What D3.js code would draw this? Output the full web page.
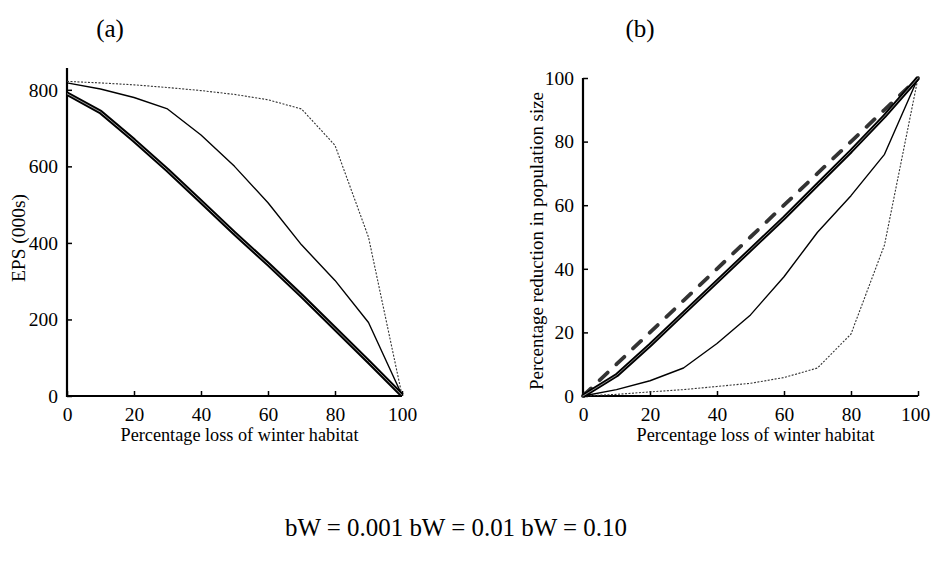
<!DOCTYPE html>
<html><head><meta charset="utf-8">
<script src="https://cdn.jsdelivr.net/npm/d3@7"></script>
<style>
body{margin:0;background:#fff;}
svg text{font-family:"Liberation Serif","Times New Roman",Times,serif !important;fill:#000;}
</style></head>
<body><svg id="c" width="931" height="563"></svg>
<script>
// ---- data ----
const lossPct = [0,10,20,30,40,50,60,70,80,90,100];
// panel (a): EPS (000s)
const epsBw001 = [790,742,668,590,508,425,345,262,176,90,2];
const epsBw01  = [818,802,780,750,682,600,505,395,302,192,2];
const epsBw10  = [822,818,813,806,798,788,774,750,655,415,2];
// panel (b): percentage reduction in population size
const redLine  = [0,10,20,30,40,50,60,70,80,90,100];
const redBw001 = [0,6.5,16,26,36,46,56,66.5,77,88,100];
const redBw01  = [0,2,4.8,8.8,16.5,25.5,37.5,51.5,63,76,100];
const redBw10  = [0,0.5,1.3,2,3,4,5.8,8.8,19.5,47.5,100];
const xTicks = [0,20,40,60,80,100];
const yTicksA = [0,200,400,600,800];
const yTicksB = [0,20,40,60,80,100];
const legendText = "bW = 0.001 bW = 0.01 bW = 0.10";

const FONT = "Liberation Serif, Times New Roman, serif";
const svg = d3.select("#c");

function panel(opts){
  const g = svg.append("g");
  const x = d3.scaleLinear().domain([0,100]).range(opts.xr);
  const y = d3.scaleLinear().domain(opts.yd).range(opts.yr);
  g.append("line").attr("x1",x(0)).attr("x2",x(100)).attr("y1",y(0)).attr("y2",y(0))
    .attr("stroke","#000").attr("stroke-width",2.2);
  g.append("line").attr("x1",x(0)).attr("x2",x(0)).attr("y1",y(0)+1).attr("y2",opts.yr[1])
    .attr("stroke","#000").attr("stroke-width",2.2);
  const xa = d3.axisBottom(x).tickValues(xTicks).tickSize(-5).tickPadding(11).tickFormat(d3.format("d"));
  const gx = g.append("g").attr("transform",`translate(0,${y(0)})`).call(xa)
    .attr("font-family",FONT).attr("font-size",19.5);
  gx.select(".domain").remove();
  gx.selectAll(".tick line").attr("stroke","#000").attr("stroke-width",1.5);
  gx.selectAll("text").attr("fill","#000");
  if(opts.lastShift) gx.selectAll(".tick text").filter(d=>d===100).attr("dx",opts.lastShift);
  const ya = d3.axisLeft(y).tickValues(opts.yt).tickSize(-5).tickPadding(9).tickFormat(d3.format("d"));
  const gy = g.append("g").attr("transform",`translate(${x(0)},0)`).call(ya)
    .attr("font-family",FONT).attr("font-size",19.5);
  gy.select(".domain").remove();
  gy.selectAll(".tick line").attr("stroke","#000").attr("stroke-width",1.5);
  gy.selectAll("text").attr("fill","#000");
  g.append("text").attr("x",(x(0)+x(100))/2+5).attr("y",441).attr("text-anchor","middle")
    .attr("font-size",19).attr("textLength",238).attr("lengthAdjust","spacingAndGlyphs")
    .text("Percentage loss of winter habitat");
  g.append("text").attr("transform",`translate(${opts.ylx},${opts.yly}) rotate(-90)`)
    .attr("text-anchor","middle").attr("font-size",18)
    .attr("textLength",opts.ylLen).attr("lengthAdjust","spacingAndGlyphs").text(opts.ylab);
  g.append("text").attr("x",opts.tx).attr("y",37).attr("text-anchor","middle")
    .attr("font-size",25).text(opts.title);
  return {g,x,y};
}

function drawLine(p, vals, style){
  const line = d3.line().x((d,i)=>p.x(lossPct[i])).y(d=>p.y(d));
  const path = p.g.append("path").datum(vals).attr("d",line).attr("fill","none")
    .attr("stroke",style.stroke).attr("stroke-width",style.w)
    .attr("stroke-linejoin","round");
  if(style.dash) path.attr("stroke-dasharray",style.dash);
  if(style.cap) path.attr("stroke-linecap",style.cap);
  return path;
}

// panel (a)
const pa = panel({xr:[67,402], yd:[0,857], yr:[396,68], yt:yTicksA,
  ylab:"EPS (000s)", ylx:25, yly:238, ylLen:88, title:"(a)", tx:110});
drawLine(pa, epsBw10, {stroke:"#333", w:1.1, dash:"2,1.5"});
drawLine(pa, epsBw01, {stroke:"#000", w:1.4});
drawLine(pa, epsBw001, {stroke:"#000", w:4.5});
drawLine(pa, epsBw001, {stroke:"#999", w:1});

// panel (b)
const pb = panel({xr:[583,918], yd:[0,100], yr:[396,78], yt:yTicksB, lastShift:-3,
  ylab:"Percentage reduction in population size", ylx:543, yly:241, ylLen:298, title:"(b)", tx:640});
drawLine(pb, redBw10, {stroke:"#333", w:1.1, dash:"2,1.5"});
drawLine(pb, redBw01, {stroke:"#000", w:1.4});
drawLine(pb, redLine, {stroke:"#333", w:3.8, dash:"11,12", cap:"round"});
drawLine(pb, redBw001, {stroke:"#000", w:4.2});
drawLine(pb, redBw001, {stroke:"#999", w:0.9});

svg.append("text").attr("x",456).attr("y",536).attr("text-anchor","middle")
  .attr("font-size",25).attr("textLength",342).attr("lengthAdjust","spacingAndGlyphs")
  .text(legendText);
</script></body></html>
